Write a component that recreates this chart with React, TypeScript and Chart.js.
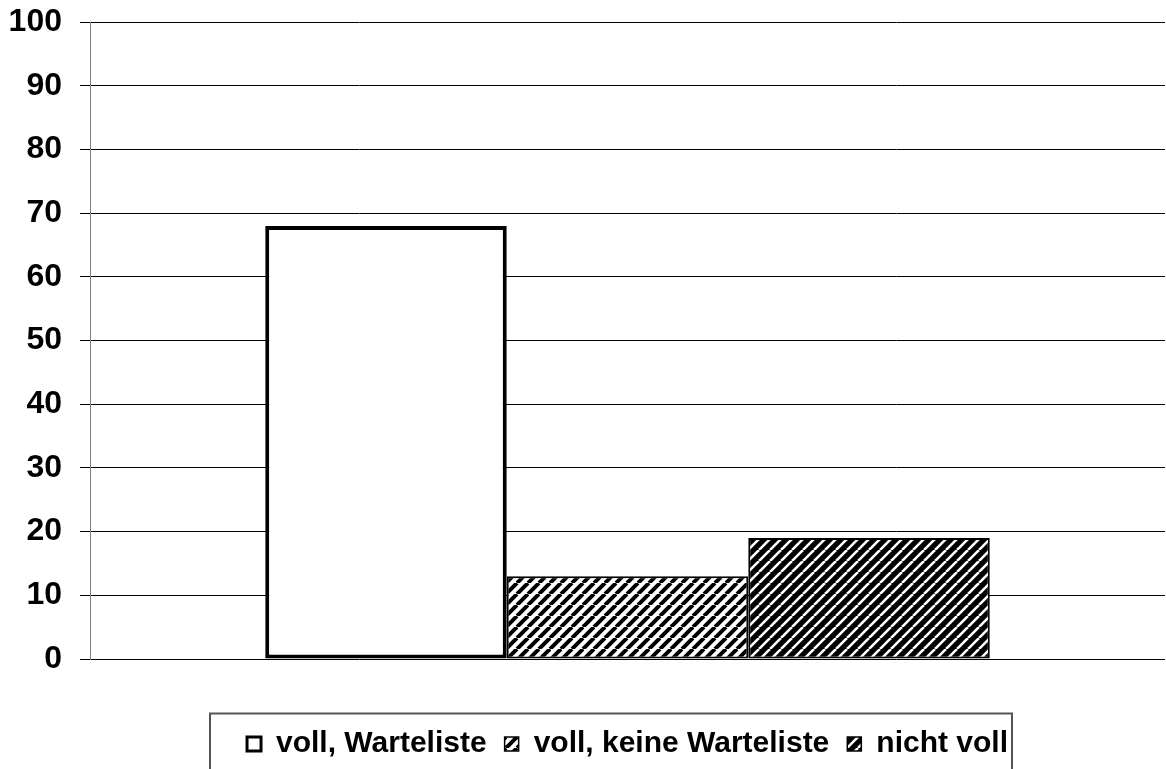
import React, { useEffect, useRef } from 'react';
import { Chart, registerables } from 'chart.js';

Chart.register(...registerables);

const categories = [''];
const seriesNames = ['voll, Warteliste', 'voll, keine Warteliste', 'nicht voll'];
const vollWarteliste = [68];
const vollKeineWarteliste = [13];
const nichtVoll = [19];
const yMin = 0;
const yMax = 100;
const yStep = 10;

const FONT = "'Liberation Sans', Arial, Helvetica, sans-serif";

function makeHatch(bg: string, fg: string, lw: number, size: number) {
  const c = document.createElement('canvas');
  c.width = size;
  c.height = size;
  const g = c.getContext('2d')!;
  g.fillStyle = bg;
  g.fillRect(0, 0, size, size);
  g.strokeStyle = fg;
  g.lineWidth = lw;
  g.beginPath();
  for (const k of [-1, 0, 1]) {
    g.moveTo(k * size, size);
    g.lineTo(k * size + size, 0);
  }
  g.stroke();
  return g.createPattern(c, 'repeat')!;
}

export default function App() {
  const ref = useRef<HTMLCanvasElement>(null);

  useEffect(() => {
    document.body.style.margin = '0';
    const ctx = ref.current!.getContext('2d')!;
    const lightHatch = makeHatch('#ffffff', '#000000', 4, 11);
    const darkHatch = makeHatch('#000000', '#ffffff', 2.6, 11);

    const legendFrame = {
      id: 'legendFrame',
      afterDraw(chart: any) {
        const lg = chart.legend;
        if (!lg || !lg.legendHitBoxes || !lg.legendHitBoxes.length) return;
        const hb = lg.legendHitBoxes;
        const left = hb[0].left - 37;
        const last = hb[hb.length - 1];
        const right = last.left + last.width + 4;
        const top = 713.5;
        const c = chart.ctx;
        c.save();
        c.strokeStyle = '#555555';
        c.lineWidth = 2;
        c.strokeRect(Math.round(left), top, Math.round(right - left), chart.height + 10 - top);
        c.restore();
      },
    };

    const chart = new Chart(ctx, {
      type: 'bar',
      data: {
        labels: categories,
        datasets: [
          {
            label: seriesNames[0],
            data: vollWarteliste,
            backgroundColor: '#ffffff',
            borderColor: '#000000',
            borderWidth: 4,
            borderSkipped: false,
          },
          {
            label: seriesNames[1],
            data: vollKeineWarteliste,
            backgroundColor: lightHatch as any,
            borderColor: '#000000',
            borderWidth: 2,
            borderSkipped: false,
          },
          {
            label: seriesNames[2],
            data: nichtVoll,
            backgroundColor: darkHatch as any,
            borderColor: '#000000',
            borderWidth: 2,
            borderSkipped: false,
          },
        ],
      },
      options: {
        responsive: false,
        animation: false,
        devicePixelRatio: 1,
        layout: { padding: { top: 22, right: 1, left: 0, bottom: 0 } },
        datasets: {
          bar: { barPercentage: 1, categoryPercentage: 0.674 },
        },
        scales: {
          x: {
            display: true,
            grid: { display: false },
            border: { display: false },
            ticks: { display: false },
            afterFit: (s: any) => {
              s.height = 52;
            },
          },
          y: {
            min: yMin,
            max: yMax,
            ticks: {
              stepSize: yStep,
              color: '#000000',
              padding: 3,
              font: { family: FONT, size: 32, weight: 'bold' },
            },
            grid: {
              color: '#000000',
              lineWidth: 1,
              tickLength: 25,
              tickBorderDash: [0, 15, 10, 200],
              tickColor: '#000000',
              drawTicks: true,
            },
            border: { display: true, color: '#808080', width: 1 },
            afterFit: (s: any) => {
              s.width = 90;
            },
          },
        },
        plugins: {
          tooltip: { enabled: false },
          legend: {
            display: true,
            position: 'bottom',
            fullSize: false,
            labels: {
              color: '#000000',
              boxWidth: 14,
              boxHeight: 14,
              padding: 18,
              font: { family: FONT, size: 30, weight: 'bold' },
              generateLabels: (chart: any) => {
                const items = Chart.defaults.plugins.legend.labels.generateLabels(chart);
                return items.map((it: any, i: number) => ({
                  ...it,
                  lineWidth: i === 0 ? 3 : 1.5,
                  strokeStyle: '#000000',
                }));
              },
            },
          },
        },
      } as any,
      plugins: [legendFrame],
    });
    return () => chart.destroy();
  }, []);

  return (
    <canvas ref={ref} width={1166} height={769} style={{ display: 'block' }} />
  );
}
